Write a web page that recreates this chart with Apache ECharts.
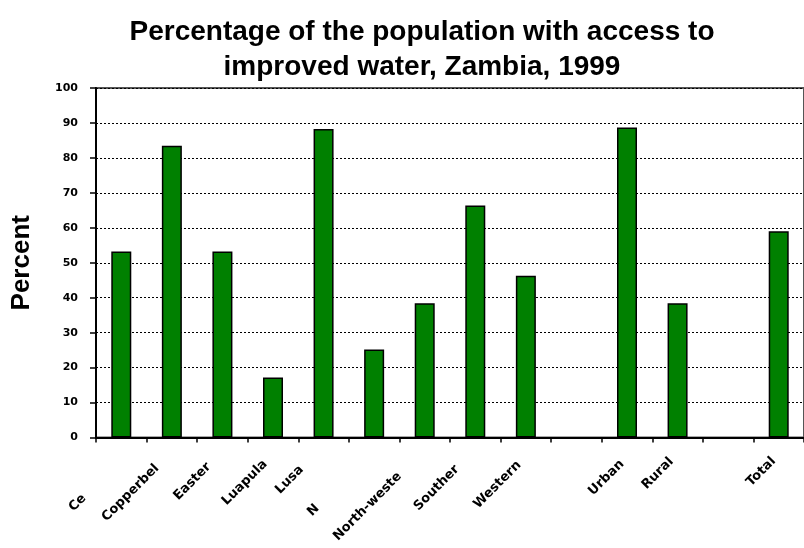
<!DOCTYPE html>
<html>
<head>
<meta charset="utf-8">
<script src="https://cdn.jsdelivr.net/npm/echarts@6/dist/echarts.min.js"></script>
<style>
  html, body { margin: 0; padding: 0; background: #fff; }
  #chart { width: 804px; height: 548px; }
</style>
</head>
<body>
<div id="chart"></div>
<script>
// Provinces and residence groups; empty strings leave gaps between groups
const categories = ['Ce', 'Copperbel', 'Easter', 'Luapula', 'Lusa', 'N', 'North-weste',
  'Souther', 'Western', '', 'Urban', 'Rural', '', 'Total'];
// Percent of population with access to improved water
const percentValues = [53.2, 83.5, 53.2, 17.2, 88.3, 25.2, 38.4, 66.4, 46.3, null, 88.7, 38.4, null, 59.0];
const yTicks = [0, 10, 20, 30, 40, 50, 60, 70, 80, 90, 100];

// Per-label nudges for the slanted category labels: [slide back along text, shift down(+)/up(-)]
const labelNudge = [[58, 11], [21, 0], [19, 0], [13, 4], [27, -8], [79, -3], [34, -3],
  [24, -3], [13, 7], [0, 0], [11, 8], [10, 3], [0, 0], [9, 4]];

const rich = {};
labelNudge.forEach(function (n, i) {
  const back = n[0], down = n[1];
  rich['c' + i] = {
    fontFamily: 'DejaVu Sans',
    fontWeight: 'bold',
    fontSize: 13,
    color: '#000',
    padding: [down > 0 ? down : 0, back, down < 0 ? -down : 0, 0]
  };
});

const chart = echarts.init(document.getElementById('chart'), null, { renderer: 'canvas' });

chart.setOption({
  animation: false,
  backgroundColor: '#ffffff',
  title: {
    text: 'Percentage of the population with access to\nimproved water, Zambia, 1999',
    left: 417,
    textAlign: 'center',
    top: 10,
    textStyle: {
      fontFamily: 'Liberation Sans',
      fontWeight: 'bold',
      fontSize: 28,
      lineHeight: 35,
      color: '#000'
    }
  },
  grid: {
    left: 96,
    right: -9,
    top: 88,
    bottom: 110.5,
    show: true,
    borderColor: '#555',
    borderWidth: 2,
    containLabel: false
  },
  xAxis: {
    type: 'category',
    data: categories,
    axisLine: { lineStyle: { color: '#000', width: 2 } },
    axisTick: { show: true, length: 5, lineStyle: { color: '#000', width: 1.5 } },
    axisLabel: {
      rotate: 45,
      interval: 0,
      margin: 14,
      fontFamily: 'DejaVu Sans',
      fontWeight: 'bold',
      fontSize: 13,
      color: '#000',
      formatter: function (value, index) {
        return value ? '{c' + index + '|' + value + '}' : '';
      },
      rich: rich
    },
    splitLine: { show: false }
  },
  yAxis: {
    type: 'value',
    min: yTicks[0],
    max: yTicks[yTicks.length - 1],
    interval: 10,
    name: 'Percent',
    nameLocation: 'middle',
    nameRotate: 90,
    nameGap: 61,
    nameTextStyle: {
      fontFamily: 'Liberation Sans',
      fontWeight: 'bold',
      fontSize: 26,
      color: '#000'
    },
    axisLine: { show: true, lineStyle: { color: '#000', width: 2 } },
    axisTick: { show: true, length: 6, lineStyle: { color: '#000', width: 1.5 } },
    axisLabel: {
      margin: 18,
      fontFamily: 'DejaVu Sans',
      fontWeight: 'bold',
      fontSize: 11,
      color: '#000'
    },
    splitLine: {
      show: true,
      lineStyle: { color: '#000', type: [2, 2], width: 1 }
    }
  },
  series: [{
    type: 'bar',
    data: percentValues,
    barWidth: 20,
    itemStyle: {
      color: '#008000',
      borderColor: '#000',
      borderWidth: 1.5
    }
  }]
});
</script>
</body>
</html>
